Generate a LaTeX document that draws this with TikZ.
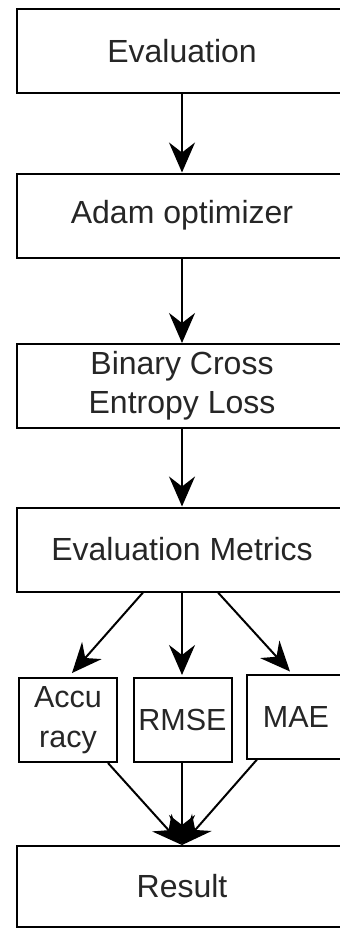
\documentclass[tikz,border=0pt]{standalone}
\usepackage{fontspec}
\setmainfont{Liberation Sans}
\usetikzlibrary{arrows.meta,calc}
\begin{document}
\begin{tikzpicture}[x=1pt,y=-1pt,
  box/.style={draw=black,line width=2pt,fill=white,inner sep=0pt,align=center,
    text=black!85,font=\fontsize{32}{39}\selectfont},
  wide/.style={box,minimum width=330pt,minimum height=84pt},
  small/.style={box,minimum width=98pt,minimum height=84pt,font=\fontsize{30.5}{40}\selectfont},
  link/.style={line width=2pt,-{Stealth[length=30pt,width=26pt,inset=10pt]}}]
\useasboundingbox[fill=white] (0,0) rectangle (340,929);
% main chain
\node[wide] (ev)  at (182,51)    {Evaluation};
\node[wide] (ad)  at (182,215.5) {Adam optimizer};
\node[wide] (bce) at (182,386)   {Binary Cross\\Entropy Loss};
\node[wide] (em)  at (182,549.5) {Evaluation Metrics};
% metric boxes
\node[small] (acc)  at (68,720)    {Accu\\racy};
\node[small] (rmse) at (182.5,720) {RMSE};
\node[small] (mae)  at (296,716.5) {MAE};
\node[box,minimum width=330pt,minimum height=81pt] (res) at (182,886.5) {Result};
% connectors
\draw[link] (ev) -- (ad);
\draw[link] (ad) -- (bce);
\draw[link] (bce) -- (em);
\draw[link] ($(em.south)+(-39,0)$) -- ($(acc.north)+(4,-4)$);
\draw[link] (em.south) -- ($(rmse.north)+(-0.5,-2)$);
\draw[link] ($(em.south)+(36,0)$) -- ($(mae.north)+(-6,-2)$);
\draw[link] ($(acc.south)+(40,0)$) -- (res.north);
\draw[link] (rmse.south -| res.north) -- (res.north);
\draw[link] ($(mae.south)+(-39,0)$) -- (res.north);
\end{tikzpicture}
\end{document}
